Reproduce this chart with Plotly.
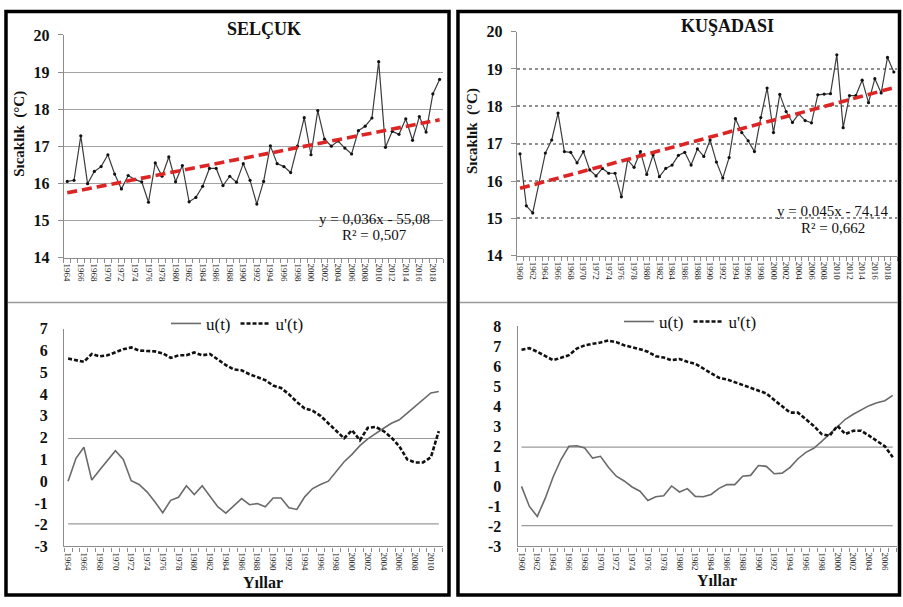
import numpy as np
import plotly.graph_objects as go

W, H = 903, 607

# ---------------- data ----------------
selcuk_years = list(range(1964, 2020))
selcuk_temp = [16.05, 16.08, 17.28, 15.99, 16.32, 16.45, 16.77, 16.25, 15.85, 16.21,
               16.10, 16.04, 15.49, 16.55, 16.19, 16.71, 16.04, 16.48, 15.50, 15.62,
               15.92, 16.40, 16.40, 15.94, 16.19, 16.03, 16.53, 16.08, 15.44, 16.05,
               17.01, 16.53, 16.45, 16.29, 17.00, 17.77, 16.77, 17.96, 17.19, 17.00,
               17.14, 16.95, 16.79, 17.42, 17.54, 17.76, 19.28, 16.97, 17.40, 17.32,
               17.74, 17.16, 17.80, 17.38, 18.41, 18.80]

kusadasi_years = list(range(1960, 2020))
kusadasi_temp = [16.73, 15.34, 15.15, 15.95, 16.75, 17.10, 17.82, 16.79, 16.77, 16.49,
                 16.79, 16.30, 16.14, 16.34, 16.21, 16.21, 15.58, 16.57, 16.37, 16.79,
                 16.18, 16.70, 16.12, 16.34, 16.43, 16.69, 16.77, 16.43, 16.86, 16.66,
                 17.10, 16.51, 16.08, 16.63, 17.67, 17.30, 17.08, 16.79, 17.70, 18.49,
                 17.30, 18.32, 17.86, 17.57, 17.80, 17.62, 17.56, 18.31, 18.33, 18.34,
                 19.38, 17.43, 18.29, 18.29, 18.70, 18.10, 18.74, 18.36, 19.31, 18.92]

selcuk_mk_years = list(range(1964, 2012))
selcuk_u = [0.00, 1.05, 1.56, 0.05, 0.51, 0.97, 1.40, 1.00, 0.02, -0.15,
            -0.49, -0.95, -1.45, -0.88, -0.74, -0.21, -0.61, -0.21, -0.72, -1.18,
            -1.47, -1.14, -0.80, -1.08, -1.03, -1.18, -0.77, -0.77, -1.22, -1.30,
            -0.72, -0.34, -0.15, 0.00, 0.46, 0.89, 1.23, 1.63, 1.94, 2.20,
            2.43, 2.66, 2.82, 3.13, 3.43, 3.74, 4.05, 4.12]
selcuk_u_prime = [5.63, 5.55, 5.48, 5.84, 5.73, 5.78, 5.91, 6.06, 6.14, 6.00,
                  5.98, 5.96, 5.87, 5.66, 5.78, 5.78, 5.91, 5.78, 5.84, 5.58,
                  5.33, 5.13, 5.09, 4.91, 4.79, 4.64, 4.39, 4.28, 3.99, 3.64,
                  3.34, 3.24, 3.00, 2.67, 2.30, 1.97, 2.34, 1.88, 2.45, 2.49,
                  2.30, 2.00, 1.60, 1.00, 0.86, 0.86, 1.10, 2.30]

kusadasi_mk_years = list(range(1960, 2008))
kusadasi_u = [0.00, -1.00, -1.50, -0.60, 0.47, 1.34, 2.00, 2.03, 1.92, 1.41,
              1.50, 0.96, 0.51, 0.27, -0.03, -0.24, -0.70, -0.52, -0.47, 0.02,
              -0.28, -0.11, -0.50, -0.52, -0.40, -0.10, 0.09, 0.09, 0.51, 0.55,
              1.04, 1.00, 0.63, 0.66, 0.95, 1.38, 1.70, 1.90, 2.25, 2.62,
              3.02, 3.35, 3.60, 3.83, 4.03, 4.18, 4.28, 4.54]
kusadasi_u_prime = [6.82, 6.90, 6.72, 6.50, 6.30, 6.42, 6.55, 6.88, 7.04, 7.12,
                    7.18, 7.28, 7.20, 7.04, 6.95, 6.85, 6.72, 6.50, 6.43, 6.30,
                    6.36, 6.22, 6.12, 5.88, 5.62, 5.42, 5.34, 5.20, 5.04, 4.92,
                    4.76, 4.64, 4.31, 3.98, 3.68, 3.68, 3.36, 3.02, 2.61, 2.53,
                    3.02, 2.61, 2.78, 2.78, 2.53, 2.28, 2.00, 1.46]

conf_limits = [1.96, -1.96]

selcuk_top_ticks = list(range(1964, 2019, 2))
kusadasi_top_ticks = list(range(1960, 2019, 2))
selcuk_bottom_ticks = list(range(1964, 2011, 2))
kusadasi_bottom_ticks = list(range(1960, 2007, 2))
temp_ticks = [14, 15, 16, 17, 18, 19, 20]
selcuk_mk_ticks = [-3, -2, -1, 0, 1, 2, 3, 4, 5, 6, 7]
kusadasi_mk_ticks = [-3, -2, -1, 0, 1, 2, 3, 4, 5, 6, 7, 8]

selcuk_eq = ["y = 0,036x - 55,08", "R² = 0,507"]
kusadasi_eq = ["y = 0,045x - 74,14", "R² = 0,662"]

# ---------------- helpers ----------------
SERIF = "Liberation Serif"
AXC = "#8c8c8c"


def px(x):
    return x / W


def py(y):
    return 1 - y / H


fig = go.Figure()

# --- top charts: temperature ---
for (yrs, temps, xa, ya) in [(selcuk_years, selcuk_temp, "x", "y"),
                             (kusadasi_years, kusadasi_temp, "x2", "y2")]:
    fig.add_trace(go.Scatter(x=yrs, y=temps, mode="lines+markers", xaxis=xa, yaxis=ya,
                             line=dict(color="#3c3c3c", width=1.2),
                             marker=dict(color="#111111", size=3.2),
                             showlegend=False, hoverinfo="skip"))
    coef = np.polyfit(yrs, temps, 1)
    xs = [yrs[0], yrs[-1]]
    fig.add_trace(go.Scatter(x=xs, y=list(np.polyval(coef, xs)), mode="lines",
                             xaxis=xa, yaxis=ya,
                             line=dict(color="#dc2626", width=3.6, dash="10px,5px"),
                             showlegend=False, hoverinfo="skip"))

# --- bottom charts: Mann-Kendall ---
for (yrs, u, up, xa, ya, lg) in [(selcuk_mk_years, selcuk_u, selcuk_u_prime, "x3", "y3", "legend"),
                                 (kusadasi_mk_years, kusadasi_u, kusadasi_u_prime, "x4", "y4", "legend2")]:
    for c in conf_limits:
        fig.add_trace(go.Scatter(x=yrs, y=[c] * len(yrs), mode="lines", xaxis=xa, yaxis=ya,
                                 line=dict(color="#9a9a9a", width=1.2),
                                 showlegend=False, hoverinfo="skip"))
    fig.add_trace(go.Scatter(x=yrs, y=u, mode="lines", name="u(t)", xaxis=xa, yaxis=ya,
                             line=dict(color="#6a6a6a", width=1.6), legend=lg))
    fig.add_trace(go.Scatter(x=yrs, y=up, mode="lines", name="u'(t)", xaxis=xa, yaxis=ya,
                             line=dict(color="#111111", width=2.6, dash="4px,2px"), legend=lg))

tickfont_x = dict(family=SERIF, size=9, color="#1a1a1a")
tickfont_y = dict(family=SERIF, size=16, color="#111")


def xaxis_cfg(dom, rng, tickvals, anchor):
    return dict(domain=dom, range=rng, tickmode="array", tickvals=tickvals, anchor=anchor,
                ticktext=[str(t) for t in tickvals], tickangle=90, tickfont=tickfont_x,
                showline=True, linecolor=AXC, linewidth=1.3, ticks="", showgrid=False,
                zeroline=False, ticklabelstandoff=3,
                minor=dict(tickmode="linear", tick0=rng[0], dtick=1, ticks="outside",
                           ticklen=4, tickcolor=AXC, tickwidth=1, showgrid=False))


def yaxis_cfg(dom, rng, tickvals, anchor, **kw):
    d = dict(domain=dom, range=rng, tickmode="array", tickvals=tickvals,
             ticktext=["<b>%d</b>" % t for t in tickvals], tickfont=tickfont_y,
             anchor=anchor, showline=True, linecolor=AXC, linewidth=1.3, zeroline=False)
    d.update(kw)
    return d


fig.update_layout(
    width=W, height=H, margin=dict(l=0, r=0, t=0, b=0), autosize=False,
    paper_bgcolor="white", plot_bgcolor="white",
    xaxis=xaxis_cfg([px(62), px(442)], [1963.5, 2019.5], selcuk_top_ticks, "y"),
    xaxis2=xaxis_cfg([px(516), px(897)], [1959.5, 2019.5], kusadasi_top_ticks, "y2"),
    xaxis3=xaxis_cfg([px(62.3), px(441.7)], [1963.5, 2011.5], selcuk_bottom_ticks, "y3"),
    xaxis4=xaxis_cfg([px(516.7), px(896.7)], [1959.5, 2007.5], kusadasi_bottom_ticks, "y4"),
    yaxis=yaxis_cfg([py(256.7), py(27.7)], [14, 20], temp_ticks, "x",
                    showgrid=True, gridcolor="#a3a3a3", gridwidth=1.3,
                    ticks="outside", ticklen=5, tickcolor=AXC, ticklabelstandoff=5),
    yaxis2=yaxis_cfg([py(255), py(24.3)], [14, 20], temp_ticks, "x2",
                     showgrid=True, gridcolor="#8f8f8f", gridwidth=1.5, griddash="dot",
                     ticks="outside", ticklen=5, tickcolor=AXC, ticklabelstandoff=5),
    yaxis3=yaxis_cfg([py(554), py(330)], [-3, 7], selcuk_mk_ticks, "x3",
                     showgrid=False, ticks="", ticklabelstandoff=12),
    yaxis4=yaxis_cfg([py(554), py(327.3)], [-3, 8], kusadasi_mk_ticks, "x4",
                     showgrid=False, ticks="", ticklabelstandoff=12),
    legend=dict(orientation="h", x=px(236), y=py(325), xanchor="center", yanchor="middle",
                font=dict(family=SERIF, size=17, color="#111"), bgcolor="rgba(0,0,0,0)",
                itemwidth=30, tracegroupgap=0),
    legend2=dict(orientation="h", x=px(690), y=py(323), xanchor="center", yanchor="middle",
                 font=dict(family=SERIF, size=17, color="#111"), bgcolor="rgba(0,0,0,0)",
                 itemwidth=30, tracegroupgap=0),
)

ann = []


def add_text(x, y, text, size, bold=False, angle=0, xanchor="center"):
    ann.append(dict(xref="paper", yref="paper", x=px(x), y=py(y),
                    text=("<b>%s</b>" % text) if bold else text, showarrow=False,
                    xanchor=xanchor, yanchor="middle", textangle=angle,
                    font=dict(family=SERIF, size=size, color="#111")))


add_text(262.5, 21.7, "SELÇUK", 18, True)
add_text(726.7, 19, "KUŞADASI", 18, True)
add_text(17.5, 129, "Sıcaklık  (°C)", 15, True, angle=-90)
add_text(471.7, 127, "Sıcaklık  (°C)", 15, True, angle=-90)
add_text(373, 216.7, selcuk_eq[0], 15)
add_text(373, 234, selcuk_eq[1], 15)
add_text(832.5, 209, kusadasi_eq[0], 15)
add_text(832.5, 226.7, kusadasi_eq[1], 15)
add_text(262, 591, "Yıllar", 16, True)
add_text(717, 589, "Yıllar", 16, True)
fig.update_layout(annotations=ann)

shapes = []
# panel borders
for (x0, x1) in [(4, 448), (457, 899.5)]:
    shapes.append(dict(type="rect", xref="paper", yref="paper",
                       x0=px(x0), x1=px(x1), y0=py(604), y1=py(3.5),
                       line=dict(color="black", width=3.5)))
# separators between upper and lower charts
for (x0, x1) in [(6, 446), (459, 898)]:
    shapes.append(dict(type="line", xref="paper", yref="paper",
                       x0=px(x0), x1=px(x1), y0=py(303), y1=py(303),
                       line=dict(color="#9a9a9a", width=1.5)))
fig.update_layout(shapes=shapes)

fig.write_html("out.html", config={"displayModeBar": False},
               post_script="document.body.style.margin='0';document.body.style.overflow='hidden';")
